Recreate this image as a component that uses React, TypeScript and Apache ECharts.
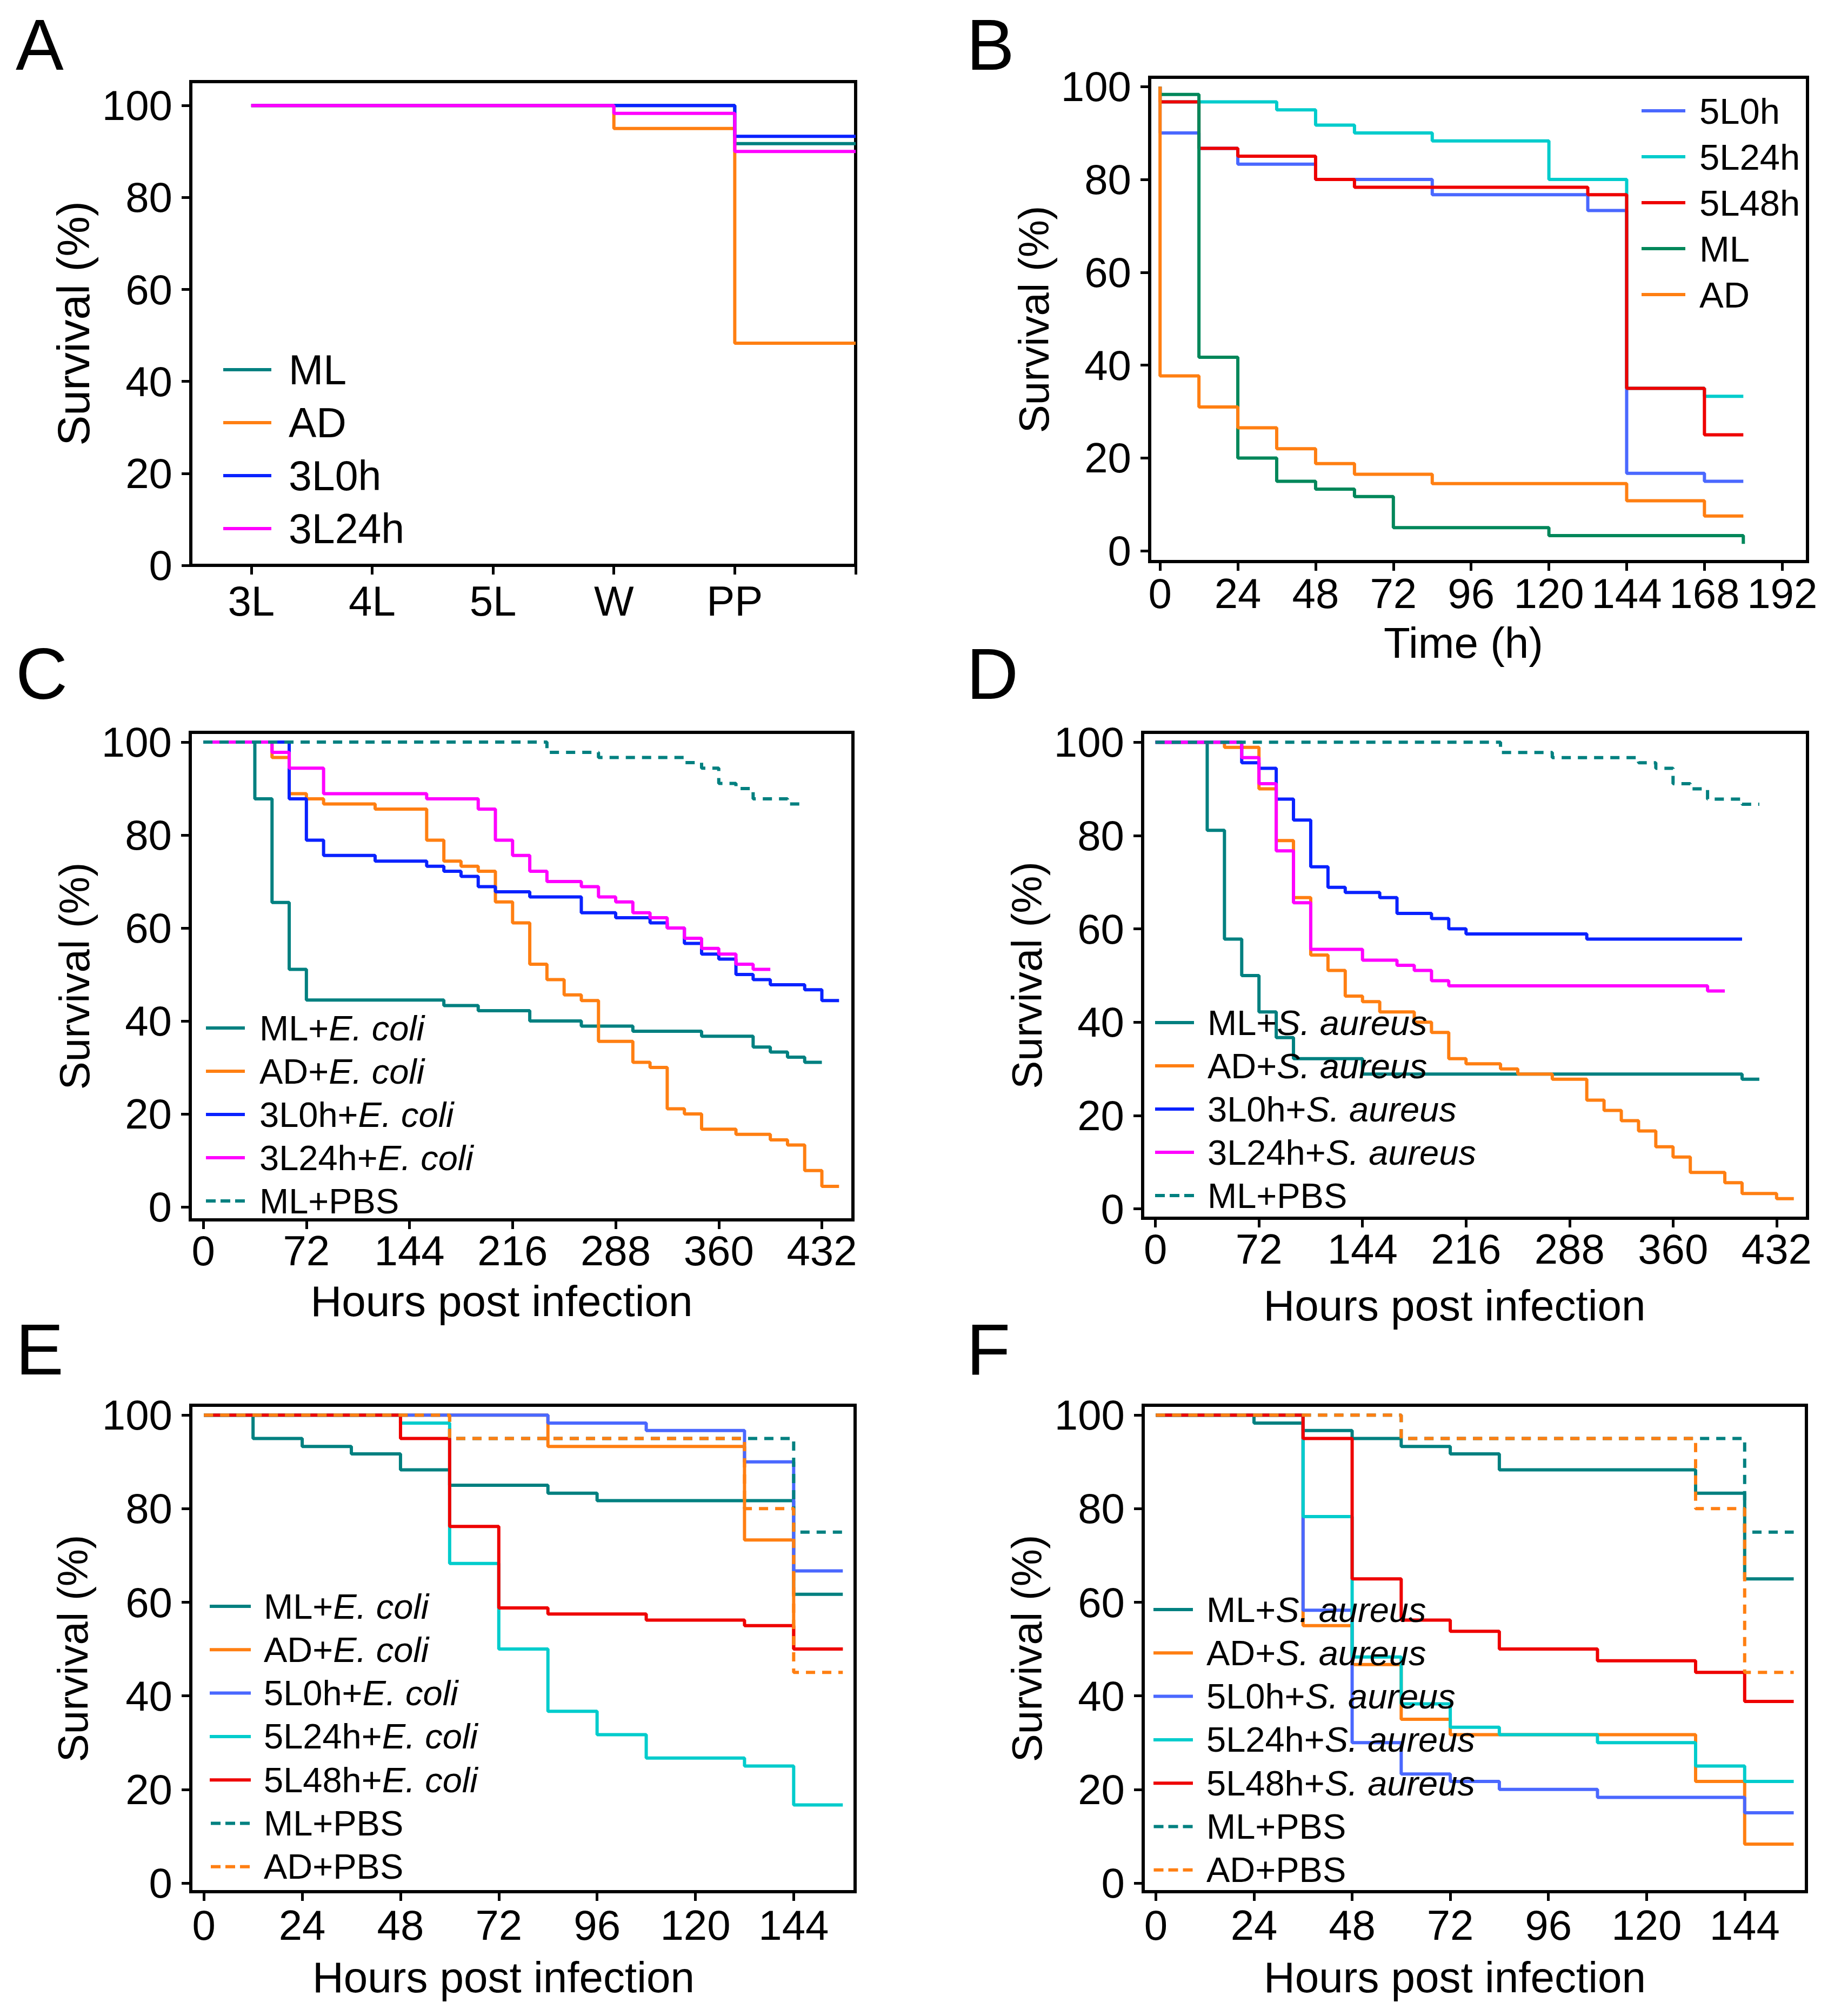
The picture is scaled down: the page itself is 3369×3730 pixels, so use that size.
import React, { useEffect, useRef } from "react";
import * as echarts from "echarts";

type Pt = [number, number];

// ---------- Panel A (developmental stages) ----------
const aStages = ["3L", "4L", "5L", "W", "PP"];
const aML: Pt[] = [[0, 100], [4, 91.7], [5, 91.7]];
const aAD: Pt[] = [[0, 100], [3, 95], [4, 48.3], [5, 48.3]];
const a3L0h: Pt[] = [[0, 100], [4, 93.3], [5, 93.3]];
const a3L24h: Pt[] = [[0, 100], [3, 98.3], [4, 90], [5, 90]];

// ---------- Panel B (time, h) ----------
const b5L0h: Pt[] = [[0, 100], [0, 90], [12, 86.7], [24, 83.3], [48, 80], [84, 76.7], [132, 73.3], [144, 16.7], [168, 15], [180, 15]];
const b5L24h: Pt[] = [[0, 100], [0, 96.7], [36, 95], [48, 91.7], [60, 90], [84, 88.3], [120, 80], [144, 35], [168, 33.3], [180, 33.3]];
const b5L48h: Pt[] = [[0, 100], [0, 96.7], [12, 86.7], [24, 85], [48, 80], [60, 78.3], [132, 76.7], [144, 35], [168, 25], [180, 25]];
const bML: Pt[] = [[0, 100], [0, 98.3], [12, 41.7], [24, 20], [36, 15], [48, 13.3], [60, 11.7], [72, 5], [120, 3.3], [180, 1.5]];
const bAD: Pt[] = [[0, 100], [0, 37.7], [12, 31], [24, 26.5], [36, 22], [48, 18.8], [60, 16.5], [84, 14.5], [144, 10.8], [168, 7.5], [180, 7.5]];

// ---------- Panel C (E. coli, hours post infection) ----------
const cML: Pt[] = [[0, 100], [36, 87.8], [48, 65.5], [60, 51.1], [72, 44.5], [168, 43.3], [192, 42.2], [228, 40], [264, 38.9], [300, 37.8], [348, 36.7], [384, 34.4], [396, 33.3], [408, 32.2], [420, 31.1], [432, 31.1]];
const cAD: Pt[] = [[0, 100], [48, 96.7], [60, 88.9], [72, 87.8], [84, 86.7], [120, 85.6], [156, 78.9], [168, 74.4], [180, 73.3], [192, 72.2], [204, 65.6], [216, 61.1], [228, 52.2], [240, 48.9], [252, 45.6], [264, 44.4], [276, 35.6], [300, 31.1], [312, 30], [324, 21.1], [336, 20], [348, 16.7], [372, 15.6], [396, 14.4], [408, 13.3], [420, 7.8], [432, 4.4], [444, 4.4]];
const c3L0h: Pt[] = [[0, 100], [60, 87.8], [72, 78.9], [84, 75.6], [120, 74.4], [156, 73.3], [168, 72.2], [180, 71.1], [192, 68.9], [204, 67.8], [228, 66.7], [264, 63.3], [288, 62.2], [312, 61.1], [324, 60], [336, 56.7], [348, 54.4], [360, 53.3], [372, 50], [384, 48.9], [396, 47.8], [420, 46.7], [432, 44.4], [444, 44.4]];
const c3L24h: Pt[] = [[0, 100], [48, 97.8], [60, 94.4], [84, 88.9], [156, 87.8], [192, 85.6], [204, 78.9], [216, 75.6], [228, 72.2], [240, 70], [264, 68.9], [276, 66.7], [288, 65.6], [300, 63.3], [312, 62.2], [324, 60], [336, 57.8], [348, 55.6], [360, 54.4], [372, 52.2], [384, 51.1], [396, 51.1]];
const cPBS: Pt[] = [[0, 100], [240, 97.8], [276, 96.7], [336, 95.6], [348, 94.4], [360, 91.1], [372, 90], [384, 87.8], [408, 86.7], [420, 86.7]];

// ---------- Panel D (S. aureus, hours post infection) ----------
const dML: Pt[] = [[0, 100], [36, 81.1], [48, 57.8], [60, 50], [72, 42.2], [84, 36.7], [96, 32.2], [144, 28.9], [408, 27.8], [420, 27.8]];
const dAD: Pt[] = [[0, 100], [48, 98.9], [72, 90], [84, 78.9], [96, 66.7], [108, 54.4], [120, 51.1], [132, 45.6], [144, 44.4], [156, 42.2], [180, 40], [192, 37.8], [204, 32.2], [216, 31.1], [240, 30], [252, 28.9], [276, 27.8], [300, 23.3], [312, 21.1], [324, 18.9], [336, 16.7], [348, 13.3], [360, 11.1], [372, 7.8], [396, 5.6], [408, 3.3], [432, 2.2], [444, 2.2]];
const d3L0h: Pt[] = [[0, 100], [60, 95.6], [72, 94.4], [84, 87.8], [96, 83.3], [108, 73.3], [120, 68.9], [132, 67.8], [156, 66.7], [168, 63.3], [192, 62.2], [204, 60], [216, 58.9], [300, 57.8], [408, 57.8]];
const d3L24h: Pt[] = [[0, 100], [60, 96.7], [72, 91.1], [84, 76.7], [96, 65.6], [108, 55.6], [144, 53.3], [168, 52.2], [180, 51.1], [192, 48.9], [204, 47.8], [384, 46.7], [396, 46.7]];
const dPBS: Pt[] = [[0, 100], [240, 97.8], [276, 96.7], [336, 95.6], [348, 94.4], [360, 91.1], [372, 90], [384, 87.8], [408, 86.7], [420, 86.7]];

// ---------- Panel E (E. coli, 5th instar) ----------
const eML: Pt[] = [[0, 100], [12, 95], [24, 93.3], [36, 91.7], [48, 88.3], [60, 85], [84, 83.3], [96, 81.7], [144, 61.7], [156, 61.7]];
const eAD: Pt[] = [[0, 100], [84, 93.3], [132, 73.3], [144, 50], [156, 50]];
const e5L0h: Pt[] = [[0, 100], [84, 98.3], [108, 96.7], [132, 90], [144, 66.7], [156, 66.7]];
const e5L24h: Pt[] = [[0, 100], [48, 98.3], [60, 68.3], [72, 50], [84, 36.7], [96, 31.7], [108, 26.7], [132, 25], [144, 16.7], [156, 16.7]];
const e5L48h: Pt[] = [[0, 100], [48, 95], [60, 76.2], [72, 58.8], [84, 57.5], [108, 56.2], [132, 55], [144, 50], [156, 50]];
const eMLPBS: Pt[] = [[0, 100], [60, 95], [144, 75], [156, 75]];
const eADPBS: Pt[] = [[0, 100], [60, 95], [132, 80], [144, 45], [156, 45]];

// ---------- Panel F (S. aureus, 5th instar) ----------
const fML: Pt[] = [[0, 100], [24, 98.3], [36, 96.7], [48, 95], [60, 93.3], [72, 91.7], [84, 88.3], [132, 83.3], [144, 65], [156, 65]];
const fAD: Pt[] = [[0, 100], [36, 55], [48, 46.7], [60, 35], [72, 31.7], [132, 21.7], [144, 8.3], [156, 8.3]];
const f5L0h: Pt[] = [[0, 100], [36, 58.3], [48, 30], [60, 23.3], [72, 21.7], [84, 20], [108, 18.3], [144, 15], [156, 15]];
const f5L24h: Pt[] = [[0, 100], [36, 78.3], [48, 48.3], [60, 38.3], [72, 33.3], [84, 31.7], [108, 30], [132, 25], [144, 21.7], [156, 21.7]];
const f5L48h: Pt[] = [[0, 100], [36, 95], [48, 65], [60, 56.2], [72, 53.8], [84, 50], [108, 47.5], [132, 45], [144, 38.8], [156, 38.8]];
const fMLPBS: Pt[] = [[0, 100], [60, 95], [144, 75], [156, 75]];
const fADPBS: Pt[] = [[0, 100], [60, 95], [132, 80], [144, 45], [156, 45]];

// ---------- ticks ----------
const yTicks = [0, 20, 40, 60, 80, 100];
const aTicks = [0, 1, 2, 3, 4, 5];
const bTicks = [0, 24, 48, 72, 96, 120, 144, 168, 192];
const cdTicks = [0, 72, 144, 216, 288, 360, 432];
const efTicks = [0, 24, 48, 72, 96, 120, 144];

// ---------- colours ----------
const TEAL = "#008080";
const ORANGE = "#FF7F12";
const BLUE = "#0A22FF";
const MAGENTA = "#FF00FF";
const LBLUE = "#4A68FF";
const CYAN = "#00CCCC";
const RED = "#EE0000";
const GREEN = "#00875A";

const FONT = "'Liberation Sans', Arial, Helvetica, sans-serif";
const LINE_W = 6;
const FRAME_W = 6;
const TICK_FONT = 78;

type S = { name: string; data: Pt[]; color: string; dashed?: boolean };
type Spec = {
  letter: string;
  box: [number, number, number, number];
  pad: number;
  letterXY: [number, number];
  grid: [number, number, number, number];
  x: [number, number];
  y: [number, number];
  xTicks: number[];
  xLabelValues?: number[];
  xFormatter?: (v: number) => string;
  xLabelMargin: number;
  xName?: string;
  xNameGap?: number;
  xNameShift?: number;
  yNameGap: number;
  yNameSize: number;
  series: S[];
  lg: { left: number; top: number; w: number; pad: number; font: number; spacing: number };
};

const PAD = 110;

const specs: Spec[] = [
  {
    letter: "A", box: [0, 0, 1684, 1200], pad: 0, letterXY: [29, 83],
    grid: [353, 151, 1230, 895], x: [-0.5, 5], y: [0, 105.2],
    xTicks: aTicks, xLabelValues: [0, 1, 2, 3, 4], xFormatter: (v) => aStages[Math.round(v)] ?? "", xLabelMargin: 27,
    yNameGap: 174, yNameSize: 84,
    series: [
      { name: "ML", data: aML, color: TEAL },
      { name: "AD", data: aAD, color: ORANGE },
      { name: "3L0h", data: a3L0h, color: BLUE },
      { name: "3L24h", data: a3L24h, color: MAGENTA },
    ],
    lg: { left: 408, top: 679, w: 89, pad: 27, font: 77, spacing: 98 },
  },
  {
    letter: "B", box: [1684, 0, 1685, 1300], pad: 0, letterXY: [104, 83],
    grid: [443, 143, 1217, 896], x: [-3.2, 199.8], y: [-2.3, 102],
    xTicks: bTicks, xLabelMargin: 20, xName: "Time (h)", xNameGap: 110, xNameShift: -28,
    yNameGap: 148, yNameSize: 78,
    series: [
      { name: "5L0h", data: b5L0h, color: LBLUE },
      { name: "5L24h", data: b5L24h, color: CYAN },
      { name: "5L48h", data: b5L48h, color: RED },
      { name: "ML", data: bML, color: GREEN },
      { name: "AD", data: bAD, color: ORANGE },
    ],
    lg: { left: 1348, top: 200, w: 81, pad: 21, font: 67, spacing: 85 },
  },
  {
    letter: "C", box: [0, 1200 - PAD, 1684, 1250 + PAD + 80], pad: PAD, letterXY: [29, 47],
    grid: [352, 155, 1226, 902], x: [-9.1, 453.7], y: [-2.8, 102.1],
    xTicks: cdTicks, xLabelMargin: 18, xName: "Hours post infection", xNameGap: 110, xNameShift: -37,
    yNameGap: 158, yNameSize: 78,
    series: [
      { name: "ML+E. coli", data: cML, color: TEAL },
      { name: "AD+E. coli", data: cAD, color: ORANGE },
      { name: "3L0h+E. coli", data: c3L0h, color: BLUE },
      { name: "3L24h+E. coli", data: c3L24h, color: MAGENTA },
      { name: "ML+PBS", data: cPBS, color: TEAL, dashed: true },
    ],
    lg: { left: 376, top: 697, w: 72, pad: 22, font: 65, spacing: 80 },
  },
  {
    letter: "D", box: [1684, 1200 - PAD, 1685, 1250 + PAD + 80], pad: PAD, letterXY: [104, 47],
    grid: [430, 155, 1230, 899], x: [-8.9, 453.5], y: [-2.0, 102.1],
    xTicks: cdTicks, xLabelMargin: 18, xName: "Hours post infection", xNameGap: 121, xNameShift: -38,
    yNameGap: 170, yNameSize: 78,
    series: [
      { name: "ML+S. aureus", data: dML, color: TEAL },
      { name: "AD+S. aureus", data: dAD, color: ORANGE },
      { name: "3L0h+S. aureus", data: d3L0h, color: BLUE },
      { name: "3L24h+S. aureus", data: d3L24h, color: MAGENTA },
      { name: "ML+PBS", data: dPBS, color: TEAL, dashed: true },
    ],
    lg: { left: 448, top: 687, w: 72, pad: 20, font: 65, spacing: 80 },
  },
  {
    letter: "E", box: [0, 2450 - PAD, 1684, 1280 + PAD], pad: PAD, letterXY: [29, 47],
    grid: [353, 150, 1229, 900], x: [-3.2, 159.0], y: [-1.85, 102.1],
    xTicks: efTicks, xLabelMargin: 23, xName: "Hours post infection", xNameGap: 118, xNameShift: -36,
    yNameGap: 179, yNameSize: 78,
    series: [
      { name: "ML+E. coli", data: eML, color: TEAL },
      { name: "AD+E. coli", data: eAD, color: ORANGE },
      { name: "5L0h+E. coli", data: e5L0h, color: LBLUE },
      { name: "5L24h+E. coli", data: e5L24h, color: CYAN },
      { name: "5L48h+E. coli", data: e5L48h, color: RED },
      { name: "ML+PBS", data: eMLPBS, color: TEAL, dashed: true },
      { name: "AD+PBS", data: eADPBS, color: ORANGE, dashed: true },
    ],
    lg: { left: 383, top: 517, w: 76, pad: 19, font: 65, spacing: 80.3 },
  },
  {
    letter: "F", box: [1684, 2450 - PAD, 1685, 1280 + PAD], pad: PAD, letterXY: [104, 47],
    grid: [431, 150, 1227, 900], x: [-3.1, 159.1], y: [-1.85, 102.1],
    xTicks: efTicks, xLabelMargin: 23, xName: "Hours post infection", xNameGap: 118, xNameShift: -37,
    yNameGap: 176, yNameSize: 78,
    series: [
      { name: "ML+S. aureus", data: fML, color: TEAL },
      { name: "AD+S. aureus", data: fAD, color: ORANGE },
      { name: "5L0h+S. aureus", data: f5L0h, color: LBLUE },
      { name: "5L24h+S. aureus", data: f5L24h, color: CYAN },
      { name: "5L48h+S. aureus", data: f5L48h, color: RED },
      { name: "ML+PBS", data: fMLPBS, color: TEAL, dashed: true },
      { name: "AD+PBS", data: fADPBS, color: ORANGE, dashed: true },
    ],
    lg: { left: 445, top: 523, w: 73, pad: 20, font: 65, spacing: 80.3 },
  },
];

function legendFormatter(name: string): string {
  for (const sp of ["E. coli", "S. aureus"]) {
    const i = name.indexOf(sp);
    if (i >= 0) return name.slice(0, i) + "{i|" + sp + "}";
  }
  return name;
}

// three-dash legend icon (dash, gap, dash, gap, dash)
const DASH_ICON = "path://M0,0h18v6h-18z M27,0h18v6h-18z M54,0h18v6h-18z";
const SOLID_ICON = "rect";

function buildOption(s: Spec): any {
  const p = s.pad;
  const [gl, gt0, gw, gh] = s.grid;
  const gt = gt0 + p;
  const LH = s.lg.font;
  const series = s.series.map((d) => ({
    name: d.name,
    type: "line",
    step: "end",
    data: d.data,
    showSymbol: false,
    symbol: "none",
    clip: true,
    silent: true,
    lineStyle: { color: d.color, width: LINE_W, type: d.dashed ? [17, 13] : "solid", cap: "butt" },
    itemStyle: { color: d.color },
    emphasis: { disabled: true },
  }));
  return {
    animation: false,
    backgroundColor: "transparent",
    textStyle: { fontFamily: FONT },
    grid: {
      left: gl, top: gt, width: gw, height: gh, show: true,
      borderColor: "#000", borderWidth: FRAME_W, backgroundColor: "transparent",
      containLabel: false, outerBoundsMode: "none",
    },
    xAxis: {
      type: "value",
      min: s.x[0],
      max: s.x[1],
      splitLine: { show: false },
      axisLine: { show: true, onZero: false, lineStyle: { color: "#000", width: FRAME_W } },
      axisTick: { show: true, length: 17, customValues: s.xTicks, lineStyle: { color: "#000", width: 5 } },
      axisLabel: {
        customValues: s.xLabelValues ?? s.xTicks,
        formatter: s.xFormatter ?? ((v: number) => String(v)),
        fontSize: TICK_FONT, fontFamily: FONT, color: "#000", margin: s.xLabelMargin,
      },
      name: s.xName ?? "",
      nameLocation: "middle",
      nameGap: s.xNameGap ?? 120,
      nameTextStyle: {
        fontSize: 80, fontFamily: FONT, color: "#000",
        padding: [0, Math.max(0, -2 * (s.xNameShift ?? 0)), 0, 0],
      },
    },
    yAxis: {
      type: "value",
      min: s.y[0],
      max: s.y[1],
      splitLine: { show: false },
      axisLine: { show: true, onZero: false, lineStyle: { color: "#000", width: FRAME_W } },
      axisTick: { show: true, length: 17, customValues: yTicks, lineStyle: { color: "#000", width: 5 } },
      axisLabel: { customValues: yTicks, fontSize: TICK_FONT, fontFamily: FONT, color: "#000", margin: 34 },
      name: "Survival (%)",
      nameLocation: "middle",
      nameRotate: 90,
      nameGap: s.yNameGap,
      nameTextStyle: { fontSize: s.yNameSize, fontFamily: FONT, color: "#000" },
    },
    legend: {
      orient: "vertical",
      left: s.lg.left,
      top: s.lg.top + p - LH / 2,
      itemWidth: s.lg.w,
      itemHeight: LINE_W,
      itemGap: s.lg.spacing - LH,
      selectedMode: false,
      data: s.series.map((d) => ({ name: d.name, icon: d.dashed ? DASH_ICON : SOLID_ICON })),
      formatter: legendFormatter,
      textStyle: {
        fontSize: s.lg.font, fontFamily: FONT, color: "#000", lineHeight: LH,
        padding: [0, 0, 0, s.lg.pad],
        rich: { i: { fontSize: s.lg.font, fontFamily: FONT, color: "#000", fontStyle: "italic", lineHeight: LH } },
      },
    },
    graphic: [
      {
        type: "text",
        x: s.letterXY[0],
        y: s.letterXY[1] + p,
        style: { text: s.letter, fontSize: 133, fontFamily: FONT, fill: "#000", align: "left", verticalAlign: "middle" },
      },
    ],
    series,
  };
}

function Panel({ spec }: { spec: Spec }) {
  const ref = useRef<HTMLDivElement>(null);
  useEffect(() => {
    if (!ref.current) return;
    const chart = echarts.init(ref.current, null, { renderer: "svg" });
    chart.setOption(buildOption(spec));
    return () => chart.dispose();
  }, [spec]);
  const [l, t, w, h] = spec.box;
  return <div ref={ref} style={{ position: "absolute", left: l, top: t, width: w, height: h }} />;
}

export default function App() {
  return (
    <div style={{ position: "absolute", left: 0, top: 0, width: 3369, height: 3730, background: "#ffffff", overflow: "hidden" }}>
      {specs.map((s) => (
        <Panel key={s.letter} spec={s} />
      ))}
    </div>
  );
}
